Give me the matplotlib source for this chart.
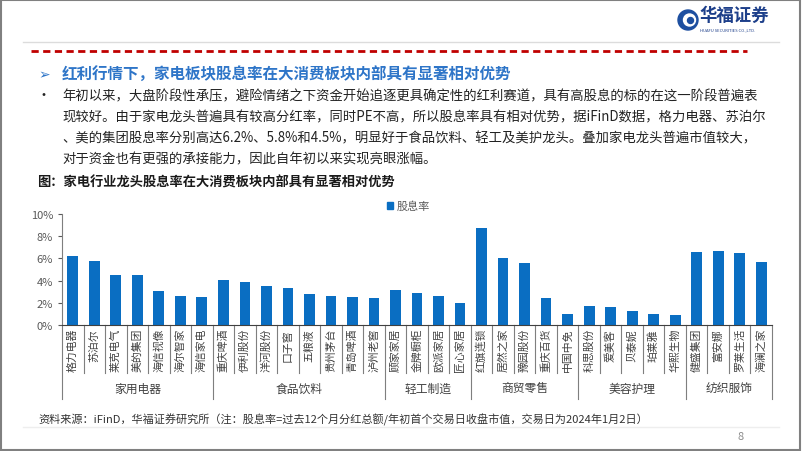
import matplotlib
matplotlib.use("Agg")
from matplotlib import pyplot as plt
from matplotlib.patches import Rectangle, Ellipse, Patch
from matplotlib.lines import Line2D

plt.rcParams['font.family'] = ['Noto Sans CJK SC', 'DejaVu Sans']

groups = ["家用电器", "食品饮料", "轻工制造", "商贸零售", "美容护理", "纺织服饰"]
group_sizes = [7, 8, 4, 5, 5, 4]
companies = ["格力电器", "苏泊尔", "莱克电气", "美的集团", "海信视像", "海尔智家", "海信家电",
             "重庆啤酒", "伊利股份", "洋河股份", "口子窖", "五粮液", "贵州茅台", "青岛啤酒", "泸州老窖",
             "顾家家居", "金牌橱柜", "欧派家居", "匠心家居",
             "红旗连锁", "居然之家", "豫园股份", "重庆百货", "中国中免",
             "科思股份", "爱美客", "贝泰妮", "珀莱雅", "华熙生物",
             "健盛集团", "富安娜", "罗莱生活", "海澜之家"]
dividend_yield = [6.2, 5.8, 4.5, 4.5, 3.1, 2.6, 2.5,
                  4.05, 3.9, 3.5, 3.35, 2.75, 2.65, 2.5, 2.43,
                  3.18, 2.85, 2.6, 2.0,
                  8.7, 6.0, 5.6, 2.43, 1.0,
                  1.68, 1.62, 1.23, 1.0, 0.93,
                  6.58, 6.64, 6.46, 5.65]
yticks = [0, 2, 4, 6, 8, 10]

title = "红利行情下，家电板块股息率在大消费板块内部具有显著相对优势"
para = ["年初以来，大盘阶段性承压，避险情绪之下资金开始追逐更具确定性的红利赛道，具有高股息的标的在这一阶段普遍表",
        "现较好。由于家电龙头普遍具有较高分红率，同时PE不高，所以股息率具有相对优势，据iFinD数据，格力电器、苏泊尔",
        "、美的集团股息率分别高达6.2%、5.8%和4.5%，明显好于食品饮料、轻工及美护龙头。叠加家电龙头普遍市值较大，",
        "对于资金也有更强的承接能力，因此自年初以来实现亮眼涨幅。"]
caption = "图：家电行业龙头股息率在大消费板块内部具有显著相对优势"
source = "资料来源：iFinD，华福证券研究所（注：股息率=过去12个月分红总额/年初首个交易日收盘市值，交易日为2024年1月2日）"

W, H = 802, 452
fig = plt.figure(figsize=(W / 100, H / 100), dpi=100)


def fx(x):
    return x / W


def fy(y):
    return 1 - y / H


def hline(x0, x1, y, **kw):
    fig.add_artist(Line2D([fx(x0), fx(x1)], [fy(y), fy(y)], transform=fig.transFigure, **kw))


def dot(x, y, r, color):
    fig.add_artist(Ellipse((fx(x), fy(y)), 2 * r / W, 2 * r / H, transform=fig.transFigure, color=color))


# slide frame and header
fig.add_artist(Rectangle((0.001, 0.002), 0.997, 0.995, transform=fig.transFigure,
                         fill=False, edgecolor="#808080", lw=1.5))
hline(23, 779, 43, color="#dcdcdc", lw=1)
hline(31, 747, 52, color="#c00000", lw=2, dashes=(2.6, 1.6))
hline(23, 779, 428, color="#eeeeee", lw=1)

# logo
dot(688, 21, 10, "#1d4fa0")
dot(689.5, 21, 6, "white")
dot(690.5, 21.5, 3, "#1d4fa0")
fig.text(fx(699), fy(16), "华福证券", fontsize=12.5, fontweight="bold", color="#1d3f8a",
         va="center")
fig.text(fx(700), fy(30), "HUAFU SECURITIES CO.,LTD.", fontsize=3, color="#1d3f8a", va="center")

# text block
fig.text(fx(38), fy(75), "➢", fontsize=10, color="#2e75c8", family="DejaVu Sans", va="center")
fig.text(fx(62), fy(75), title, fontsize=11.2, fontweight="bold", color="#2e75c8", va="center")
fig.text(fx(37), fy(96), "•", fontsize=10, color="#222222", va="center")
for i, line in enumerate(para):
    fig.text(fx(62), fy(96 + 21 * i), line, fontsize=9.6, color="#222222", va="center")
fig.text(fx(37), fy(183), caption, fontsize=9.5, fontweight="bold", color="#1a1a1a", va="center")
fig.text(fx(38), fy(420), source, fontsize=8, color="#333333", va="center")
fig.text(fx(737), fy(437), "8", fontsize=8, color="#8c8c8c", va="center")

# chart
ax = fig.add_axes([fx(62), fy(326), (772 - 62) / W, (326 - 215) / H])
x = range(len(companies))
ax.bar(x, dividend_yield, width=0.5, color="#0a6ec2", label="股息率")
ax.set_xlim(-0.5, len(companies) - 0.5)
ax.set_ylim(0, 10)
ax.set_yticks(yticks)
ax.set_yticklabels([f"{t}%" for t in yticks])
ax.tick_params(axis="y", colors="#595959", labelsize=8, length=3, width=0.8)
ax.set_xticks([])
for side in ["top", "right"]:
    ax.spines[side].set_visible(False)
ax.spines["left"].set_color("#7f7f7f")
ax.spines["bottom"].set_color("#404040")

trans = ax.get_xaxis_transform()
px = 1 / (326 - 215)
for i, name in enumerate(companies):
    ax.text(i, -3 * px, name, rotation=90, ha="center", va="top", fontsize=7.8,
            color="#404040", transform=trans)

bounds = [-0.5]
for n in group_sizes:
    bounds.append(bounds[-1] + n)
for i in range(len(companies) + 1):
    xb = i - 0.5
    depth = 74 if xb in bounds else 48
    ax.add_artist(Line2D([xb, xb], [0, -depth * px], transform=trans, color="#7f7f7f",
                         lw=0.8, clip_on=False))
for g, a, b in zip(groups, bounds[:-1], bounds[1:]):
    ax.text((a + b) / 2, -63 * px, g, ha="center", va="center", fontsize=8.5,
            color="#404040", transform=trans)

ax.legend(handles=[Patch(color="#0a6ec2", label="股息率")], loc="center left",
          bbox_to_anchor=(fx(381), fy(207)), bbox_transform=fig.transFigure,
          frameon=False, fontsize=8, handlelength=0.6, handleheight=0.6,
          handletextpad=0.3, labelcolor="#595959", borderpad=0)

fig.savefig("out.png", dpi=100)
